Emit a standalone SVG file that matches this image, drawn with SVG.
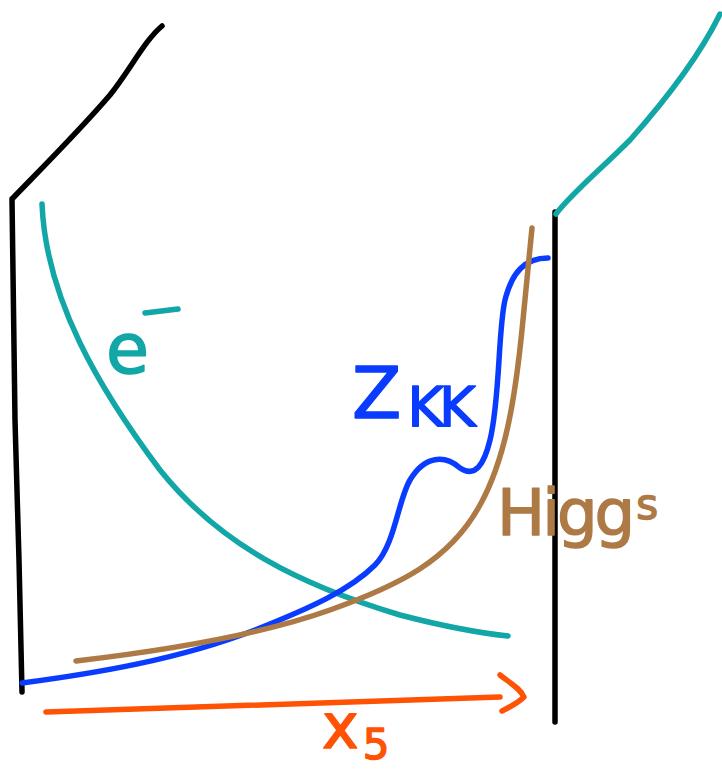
<svg xmlns="http://www.w3.org/2000/svg" width="722" height="773" viewBox="0 0 722 773">
<style>
.s{fill:none;stroke-linecap:round;stroke-linejoin:round;stroke-width:5.5}
.k{stroke:#000}
.t{stroke:#12a6a6}
.b{stroke:#0a3cff}
.h{stroke:#ad7a45}
.o{stroke:#ff5205}
.lbl{font-family:"DejaVu Sans",sans-serif;font-weight:normal;stroke-width:1.5;stroke-linejoin:round}
</style>
<rect width="722" height="773" fill="#fff"/>
<g id="connectors">
<path id="wall-left" class="s k" d="M12,199 L15,420 L19,560 L22,692"/>
<path id="wall-top" class="s k" d="M13,198 C40,170 80,130 110,95 C130,70 145,40 162,26"/>
<path id="wall-right" class="s k" d="M555,212 L555,460 L555,722"/>
<path id="electron-ext" class="s t" d="M556,214 C570,195 600,170 630,140 C670,95 700,55 720,14"/>
<path id="electron" class="s t" d="M42,204 C46,300 100,390 160,470 C220,545 300,585 400,615 C450,628 480,633 508,636"/>
<path id="zkk" class="s b" d="M22,683 C90,674 180,660 260,628 C310,608 350,590 375,565 C395,545 398,500 410,480 C425,455 445,455 460,468 C475,478 484,465 490,440 C500,400 498,330 505,300 C512,272 525,258 548,258"/>
<path id="higgs" class="s h" d="M76,661 C170,650 260,635 330,610 C400,585 450,560 480,505 C505,460 515,400 522,330 C526,290 530,250 532,228"/>
<path id="x5-axis" class="s o" d="M46,712 C150,710 300,703 500,697"/>
<path id="x5-head" class="s o" d="M500,675 C510,683 520,688 524,697 C518,703 510,707 502,711"/>
</g>
<g id="label-e">
<text class="lbl" x="106" y="373" font-size="70" fill="#12a6a6" stroke="#12a6a6">e</text>
<path class="s t" d="M145,313 L178,309"/>
</g>
<g id="label-zkk">
<text class="lbl" x="352" y="418" font-size="72" fill="#0a3cff" stroke="#0a3cff">Z<tspan font-size="56" dx="6" dy="8" letter-spacing="-5">KK</tspan></text>
</g>
<g id="label-higgs">
<text class="lbl" x="497" y="535" font-size="64" fill="#ad7a45" stroke="#ad7a45" letter-spacing="-3">Higg<tspan font-size="42" dx="4" dy="-16">s</tspan></text>
</g>
<g id="label-x5">
<text class="lbl" x="322" y="748" font-size="62" fill="#ff5205" stroke="#ff5205">x<tspan font-size="42" dx="4" dy="11">5</tspan></text>
</g>
</svg>
